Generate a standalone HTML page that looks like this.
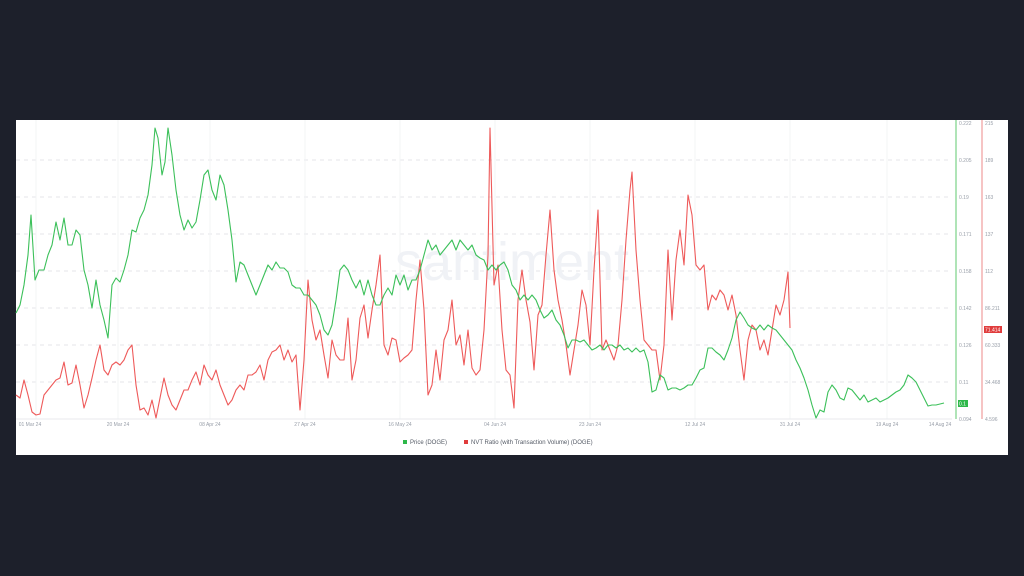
<!DOCTYPE html>
<html><head><meta charset="utf-8"><style>
html,body{margin:0;padding:0;background:#1d202b;width:1024px;height:576px;overflow:hidden}
svg{display:block}
text{font-family:"Liberation Sans",sans-serif}
</style></head><body>
<svg width="1024" height="576" viewBox="0 0 1024 576">
<rect x="0" y="0" width="1024" height="576" fill="#1d202b"/>
<rect x="16" y="120" width="992" height="335" fill="#ffffff"/>
<g stroke="#e4e6ea" stroke-width="1" stroke-dasharray="4,4">
<line x1="16" y1="160" x2="952" y2="160"/><line x1="16" y1="197" x2="952" y2="197"/>
<line x1="16" y1="234" x2="952" y2="234"/><line x1="16" y1="271" x2="952" y2="271"/>
<line x1="16" y1="308" x2="952" y2="308"/><line x1="16" y1="345" x2="952" y2="345"/>
<line x1="16" y1="382" x2="952" y2="382"/>
</g>
<g stroke="#f3f4f6" stroke-width="1">
<line x1="36" y1="120" x2="36" y2="419"/><line x1="118" y1="120" x2="118" y2="419"/>
<line x1="210" y1="120" x2="210" y2="419"/><line x1="305" y1="120" x2="305" y2="419"/>
<line x1="400" y1="120" x2="400" y2="419"/><line x1="495" y1="120" x2="495" y2="419"/>
<line x1="590" y1="120" x2="590" y2="419"/><line x1="695" y1="120" x2="695" y2="419"/>
<line x1="790" y1="120" x2="790" y2="419"/><line x1="887" y1="120" x2="887" y2="419"/>
</g>
<line x1="16" y1="419" x2="952" y2="419" stroke="#e8eaee"/>
<text x="512" y="280" font-size="54" fill="#f0f2f6" text-anchor="middle">santiment</text>
<g font-size="5" fill="#9aa0aa" text-anchor="middle">
<text x="30" y="426">01 Mar 24</text><text x="118" y="426">20 Mar 24</text><text x="210" y="426">08 Apr 24</text>
<text x="305" y="426">27 Apr 24</text><text x="400" y="426">16 May 24</text><text x="495" y="426">04 Jun 24</text>
<text x="590" y="426">23 Jun 24</text><text x="695" y="426">12 Jul 24</text><text x="790" y="426">31 Jul 24</text>
<text x="887" y="426">19 Aug 24</text><text x="940" y="426">14 Aug 24</text>
</g>
<line x1="956" y1="120" x2="956" y2="419" stroke="#5fc86f" stroke-width="1"/>
<line x1="982" y1="120" x2="982" y2="419" stroke="#ee8a8a" stroke-width="1"/>
<g font-size="5" fill="#9aa0aa">
<text x="959" y="125">0.222</text><text x="959" y="162">0.205</text><text x="959" y="199">0.19</text>
<text x="959" y="236">0.171</text><text x="959" y="273">0.158</text><text x="959" y="310">0.142</text>
<text x="959" y="347">0.126</text><text x="959" y="384">0.11</text><text x="959" y="421">0.094</text>
<text x="985" y="125">215</text><text x="985" y="162">189</text><text x="985" y="199">163</text>
<text x="985" y="236">137</text><text x="985" y="273">112</text><text x="985" y="310">86.211</text>
<text x="985" y="347">60.333</text><text x="985" y="384">34.468</text><text x="985" y="421">4.596</text>
</g>
<rect x="958" y="400" width="10" height="7" fill="#2eb84a"/><text x="959" y="405.5" font-size="5" fill="#fff">0.1</text>
<rect x="984" y="326" width="18" height="7" fill="#e03c3c"/><text x="985" y="331.5" font-size="5" fill="#fff">71.414</text>
<polyline fill="none" stroke="#ee5a5a" stroke-width="1.1" stroke-linejoin="round" points="16,395 20,398 24,380 28,395 32,412 36,415 40,414 44,395 48,390 52,385 56,380 60,378 64,362 68,385 72,383 76,365 80,385 84,408 88,395 92,378 96,360 100,345 104,370 108,375 112,365 116,362 120,365 124,360 128,350 132,345 136,385 140,410 144,408 148,415 152,400 156,418 160,398 164,378 168,395 172,405 176,410 180,400 184,390 188,390 192,380 196,372 200,385 204,365 208,375 212,380 216,370 220,385 224,395 228,405 232,400 236,390 240,385 244,390 248,375 252,375 256,372 260,365 264,380 268,360 272,352 276,350 280,345 284,360 288,350 292,362 296,355 300,410 304,360 308,280 312,320 316,340 320,330 324,355 328,378 332,340 336,355 340,360 344,360 348,318 352,380 356,360 360,318 364,305 368,338 372,310 376,285 380,255 384,345 388,355 392,338 396,340 400,362 404,358 408,355 412,350 416,300 420,260 424,310 428,395 432,385 436,350 440,380 444,340 448,330 452,300 456,345 460,335 464,365 468,330 472,368 476,375 480,370 484,330 488,255 490,128 494,285 498,265 502,330 506,370 510,375 514,408 518,300 522,270 526,300 530,322 534,370 538,315 542,305 546,255 550,210 554,270 558,300 562,320 566,345 570,375 574,350 578,325 582,290 586,305 590,345 594,270 598,210 602,350 606,340 610,350 614,360 618,345 622,300 626,240 630,190 632,172 636,250 640,300 644,340 648,345 652,350 656,350 660,380 664,345 668,250 672,320 676,260 680,230 684,265 688,195 692,215 696,265 700,270 704,265 708,310 712,295 716,300 720,290 724,295 728,310 732,295 736,315 740,350 744,380 748,340 752,325 756,330 760,350 764,340 768,355 772,330 776,305 780,315 784,300 788,272 790,328"/>
<polyline fill="none" stroke="#3cc05a" stroke-width="1.1" stroke-linejoin="round" points="16,313 20,305 24,285 28,255 31,215 35,280 39,270 44,270 48,255 52,245 56,222 60,240 64,218 68,245 72,245 76,230 80,235 84,270 88,285 92,308 96,280 100,305 104,320 108,338 112,285 116,278 120,282 124,270 128,255 132,230 136,232 140,218 144,210 148,195 152,165 155,128 158,138 162,175 165,162 168,128 172,155 176,190 180,215 184,230 188,220 192,228 196,222 200,200 204,175 208,170 212,190 216,200 220,175 224,185 228,210 232,240 236,282 240,262 244,265 248,275 252,285 256,295 260,285 264,275 268,265 272,270 276,262 280,268 284,268 288,272 292,285 296,288 300,288 304,295 308,295 312,300 316,305 320,315 324,330 328,335 332,325 336,300 340,270 344,265 348,270 352,280 356,288 360,280 364,295 368,280 372,295 376,305 380,305 384,295 388,288 392,295 396,275 400,285 404,275 408,290 412,280 416,280 420,270 424,255 428,240 432,250 436,245 440,255 444,250 448,245 452,240 456,250 460,240 464,245 468,250 472,245 476,255 480,258 484,260 488,270 492,265 496,270 500,265 504,262 508,270 512,285 516,290 520,300 524,295 528,300 532,295 536,300 540,310 544,318 548,315 552,310 556,320 560,325 564,335 568,348 572,340 576,340 580,342 584,340 588,345 592,350 596,348 600,345 604,350 608,345 612,345 616,348 620,345 624,350 628,348 632,352 636,348 640,352 644,350 648,362 652,392 656,390 660,375 664,378 668,390 672,388 676,388 680,390 684,388 688,385 692,385 696,378 700,370 704,368 708,348 712,348 716,352 720,355 724,360 728,350 732,338 736,320 740,312 744,318 748,325 752,328 756,330 760,325 764,330 768,325 772,328 776,330 780,335 784,340 788,345 792,350 796,360 800,368 804,378 808,390 812,405 816,418 820,410 824,412 828,392 832,385 836,390 840,398 844,400 848,388 852,390 856,395 860,400 864,395 868,402 872,400 876,398 880,402 884,400 888,398 892,395 896,392 900,390 904,385 908,375 912,378 916,382 920,390 924,398 928,406 932,405 936,405 940,404 944,403"/>
<rect x="403" y="440" width="4" height="4" fill="#2eb84a"/>
<text x="410" y="444" font-size="6" fill="#555b66">Price (DOGE)</text>
<rect x="464" y="440" width="4" height="4" fill="#e03c3c"/>
<text x="471" y="444" font-size="6" fill="#555b66">NVT Ratio (with Transaction Volume) (DOGE)</text>
</svg>
</body></html>
